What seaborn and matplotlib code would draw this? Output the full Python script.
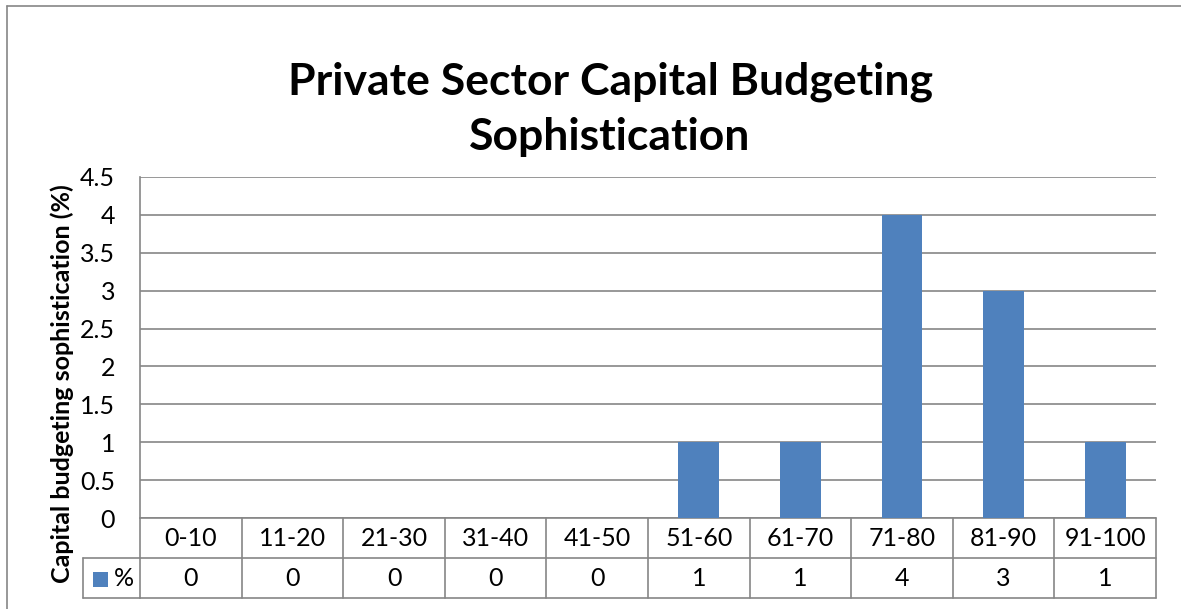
import matplotlib
matplotlib.use("Agg")
import matplotlib.pyplot as plt
import matplotlib.transforms as mtransforms
from matplotlib.patches import Rectangle
from matplotlib.lines import Line2D
import seaborn as sns

categories = ["0-10", "11-20", "21-30", "31-40", "41-50",
              "51-60", "61-70", "71-80", "81-90", "91-100"]
values = [0, 0, 0, 0, 0, 1, 1, 4, 3, 1]
series_name = "%"
y_ticks = [0, 0.5, 1, 1.5, 2, 2.5, 3, 3.5, 4, 4.5]
y_tick_labels = ["0", "0.5", "1", "1.5", "2", "2.5", "3", "3.5", "4", "4.5"]
title_lines = ["Private Sector Capital Budgeting", "Sophistication"]
y_label = "Capital budgeting sophistication (%)"

BAR = "#4F81BD"
GRID = "#868686"
FONT = ["Lato", "DejaVu Sans"]
FS = 18

sns.set_theme(style="white")
plt.rcParams["font.family"] = FONT

W, H = 1181, 609
fig = plt.figure(figsize=(W / 100, H / 100), dpi=100)

# plot area in pixel coordinates
left, right, top, bottom = 140, 1156, 177, 518
ax = fig.add_axes([left / W, (H - bottom) / H, (right - left) / W, (bottom - top) / H])

sns.barplot(x=categories, y=values, color=BAR, width=0.4, saturation=1,
            linewidth=0, ax=ax, zorder=3)
ax.set_xlim(-0.5, len(categories) - 0.5)
ax.set_ylim(0, 4.5)
ax.set_yticks(y_ticks)
ax.set_yticklabels(y_tick_labels)
ax.set_xticks([])
ax.set_xlabel("")
ax.set_ylabel("")
ax.tick_params(axis="y", length=0, pad=18, labelsize=FS, colors="black")
ax.yaxis.grid(True, color=GRID, linewidth=1.2, zorder=0)
for s in ["right", "bottom", "top"]:
    ax.spines[s].set_visible(False)
ax.spines["left"].set_color(GRID)
ax.spines["left"].set_linewidth(1.2)
ax.set_axisbelow(True)

# data table under the plot area
row_h = 40 / (bottom - top)
trans = mtransforms.blended_transform_factory(ax.transData, ax.transAxes)
n = len(categories)
legend_left = ax.transAxes.inverted().transform(
    fig.transFigure.transform((83 / W, 0)))[0]

def hline(x0, x1, y, t):
    ax.add_line(Line2D([x0, x1], [y, y], transform=t, color=GRID,
                       linewidth=1.2, clip_on=False))

def vline(x, y0, y1, t):
    ax.add_line(Line2D([x, x], [y0, y1], transform=t, color=GRID,
                       linewidth=1.2, clip_on=False))

hline(-0.5, n - 0.5, 0, trans)
hline(-0.5, n - 0.5, -row_h, trans)
hline(legend_left, 0, -row_h, ax.transAxes)
hline(legend_left, 0, -2 * row_h, ax.transAxes)
hline(-0.5, n - 0.5, -2 * row_h, trans)
vline(legend_left, -row_h, -2 * row_h, ax.transAxes)
for k in range(n + 1):
    vline(k - 0.5, 0, -2 * row_h, trans)

for i, (c, v) in enumerate(zip(categories, values)):
    ax.text(i, -0.5 * row_h, c, transform=trans, ha="center", va="center",
            fontsize=FS, color="black")
    ax.text(i, -1.5 * row_h, f"{v:g}", transform=trans, ha="center",
            va="center", fontsize=FS, color="black")

# legend key inside the table
fig.patches.append(Rectangle((93 / W, 1 - 587 / H), 15 / W, 15 / H,
                             transform=fig.transFigure, facecolor=BAR,
                             edgecolor="none"))
fig.text(124 / W, 1 - 578 / H, series_name, ha="center", va="center",
         fontsize=FS, color="black")

for line, yc in zip(title_lines, [82, 137]):
    fig.text(610 / W, 1 - yc / H, line, ha="center", va="center",
             fontsize=32, fontweight="bold", color="black")
fig.text(62 / W, 1 - 384 / H, y_label, rotation=90, ha="center",
         va="center", fontsize=FS, fontweight="bold", color="black")

# chart border
fig.add_artist(Line2D([7 / W, 7 / W], [0, 1 - 6 / H], transform=fig.transFigure,
                      color=GRID, linewidth=1.2))
fig.add_artist(Line2D([7 / W, 1], [1 - 6 / H, 1 - 6 / H],
                      transform=fig.transFigure, color=GRID, linewidth=1.2))

fig.savefig("out.png", dpi=100, facecolor="white")
